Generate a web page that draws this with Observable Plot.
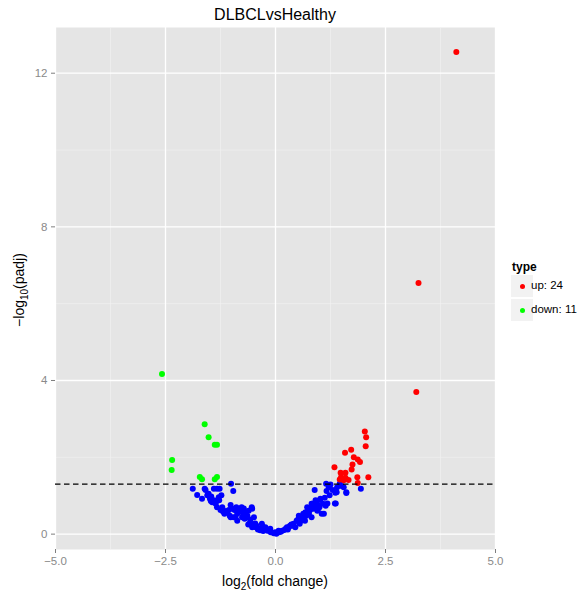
<!DOCTYPE html>
<html>
<head>
<meta charset="utf-8">
<script src="https://cdn.jsdelivr.net/npm/d3@7"></script>
<script src="https://cdn.jsdelivr.net/npm/@observablehq/plot@0.6"></script>
<style>
  html, body { margin: 0; padding: 0; background: #ffffff; }
  #wrap { position: relative; width: 582px; height: 595px; font-family: "Liberation Sans", Arial, sans-serif; }
  #wrap svg { position: absolute; left: 0; top: 0; }
  .lbl { position: absolute; white-space: nowrap; color: #000; }
  .key { position: absolute; width: 22px; height: 22px; background: #f2f2f2; }
  .kdot { position: absolute; width: 5px; height: 5px; border-radius: 50%; }
</style>
</head>
<body>
<div id="wrap"></div>
<script>
// ---- data (log2 fold change, -log10 padj) ----
const title = "DLBCLvsHealthy";
const typeLabels = ["up: 24", "down: 11"];
const xTicks = [-5, -2.5, 0, 2.5, 5];
const yTicks = [0, 4, 8, 12];
const padjCut = 1.301; // -log10(0.05)

const upX = [4.11, 3.25, 3.20, 2.03, 2.06, 2.05, 1.58, 1.72, 1.78, 1.87, 1.92, 1.75, 1.73, 1.34, 1.48, 1.59, 1.49, 1.59, 1.86, 2.11, 1.87, 1.46, 1.55, 1.66];
const upY = [12.55, 6.54, 3.70, 2.67, 2.52, 2.29, 2.12, 2.20, 2.00, 1.94, 1.88, 1.81, 1.68, 1.74, 1.60, 1.60, 1.48, 1.47, 1.48, 1.48, 1.33, 1.42, 1.40, 1.41];

const downX = [-2.58, -1.61, -1.52, -1.38, -1.33, -2.35, -2.36, -1.72, -1.67, -1.33, -1.38];
const downY = [4.17, 2.86, 2.52, 2.33, 2.33, 1.93, 1.67, 1.49, 1.43, 1.49, 1.43];

const normX = [-1.88, -1.78, -1.61, -1.67, -1.55, -1.49, -1.40, -1.33, -1.27, -1.01, -0.96, -1.44, -1.36, -1.29, -1.23, -1.33, -1.25, -1.16, -1.10, -1.02, -0.98, -1.04, -0.95, -0.87, -0.83, -0.72, -0.68, -0.64, -0.76, -0.53, -0.49, -0.53, -0.45, -0.38, -0.30, -0.23, -0.18, -0.11, -0.04, 0.02, 0.08, 0.15, 0.23, 0.30, 0.38, 0.45, 0.49, 0.53, 0.58, 0.64, 0.68, 0.72, 0.76, 0.80, 0.83, 0.87, 0.91, 0.95, 0.98, 1.02, 1.10, 1.14, 1.18, 0.89, 1.15, 1.21, 1.25, 1.36, 1.35, 1.40, 1.46, 1.55, 1.61, 1.94,
  -0.77, -0.65, -0.73, -0.54, -0.61, -0.43, -0.31, -0.12, -0.01, 0.07, 0.26, 0.33, 0.41, 0.48,
  1.23, 1.16, 1.39, 1.61, 1.23, 1.01, 0.93, 0.82, 1.08, 1.37, 0.86, 0.97, 0.74, 1.05, 0.63, 0.82, 0.67, 0.55, 0.59,
  -1.59, -1.46, -1.02, -0.91, -0.87, -1.06, -0.93, -0.89, -1.21, -1.28, -1.40,
  -0.58, -0.62, -0.50, -0.40, -0.35, -0.28, 0.12, 0.20, 0.28,
  -1.52, -1.47, -1.35, -1.19, -1.13, -0.80, -0.70, -0.57, -0.46, -0.25, 0.36, 0.52, 0.70, 0.78, 1.00, 1.12, 1.30, 1.50];
const normY = [1.18, 1.02, 1.18, 0.92, 1.01, 0.92, 1.18, 1.18, 1.18, 1.31, 1.12, 0.83, 0.79, 0.96, 1.01, 0.70, 0.63, 0.53, 0.57, 0.76, 0.66, 0.48, 0.44, 0.53, 0.66, 0.67, 0.57, 0.48, 0.44, 0.66, 0.44, 0.18, 0.18, 0.14, 0.21, 0.18, 0.09, 0.05, 0.02, 0.01, 0.05, 0.09, 0.14, 0.18, 0.22, 0.18, 0.35, 0.48, 0.35, 0.44, 0.57, 0.70, 0.53, 0.66, 0.79, 0.70, 0.88, 0.61, 0.74, 0.92, 0.53, 0.74, 0.80, 1.15, 1.31, 1.22, 1.29, 1.08, 0.80, 1.22, 1.31, 1.22, 1.09, 1.18,
  0.70, 0.44, 0.53, 0.70, 0.61, 0.22, 0.27, 0.14, 0.05, 0.09, 0.18, 0.22, 0.27, 0.35,
  1.27, 1.12, 1.09, 1.07, 1.01, 0.89, 0.79, 0.79, 0.79, 0.80, 0.66, 0.66, 0.60, 0.53, 0.53, 0.44, 0.35, 0.27, 0.44,
  1.15, 0.98, 0.44, 0.44, 0.35, 0.63, 0.63, 0.70, 0.70, 0.88, 0.88,
  0.30, 0.25, 0.26, 0.12, 0.10, 0.08, 0.06, 0.11, 0.12,
  1.05, 0.86, 0.85, 0.58, 0.60, 0.58, 0.40, 0.38, 0.28, 0.12, 0.25, 0.40, 0.48, 0.62, 0.70, 0.95, 1.15, 1.25];

// ---- build table ----
const rows = [];
normX.forEach((x, i) => rows.push({x, y: normY[i], type: "normal"}));
upX.forEach((x, i) => rows.push({x, y: upY[i], type: "up"}));
downX.forEach((x, i) => rows.push({x, y: downY[i], type: "down"}));

const xMajor = xTicks;
const xMinor = [-3.75, -1.25, 1.25, 3.75];
const yMajor = yTicks;
const yMinor = [2, 6, 10];

const chart = Plot.plot({
  width: 582,
  height: 595,
  marginLeft: 55,
  marginRight: 87,
  marginTop: 27,
  marginBottom: 46,
  style: {background: "transparent", fontFamily: "Liberation Sans, Arial, sans-serif", color: "#8a8a8a", overflow: "visible"},
  x: {domain: [-5, 5]},
  y: {domain: [-0.40, 13.19]},
  color: {domain: ["up", "down", "normal"], range: ["#ff0000", "#00ff00", "#0000ff"]},
  marks: [
    Plot.frame({fill: "#e5e5e5", stroke: "none"}),
    Plot.ruleX(xMinor, {stroke: "#f2f2f2", strokeWidth: 0.6}),
    Plot.ruleY(yMinor, {stroke: "#f2f2f2", strokeWidth: 0.6}),
    Plot.ruleX(xMajor, {stroke: "#ffffff", strokeWidth: 1.3}),
    Plot.ruleY(yMajor, {stroke: "#ffffff", strokeWidth: 1.3}),
    Plot.dot(rows, {x: "x", y: "y", fill: "type", r: 3}),
    Plot.ruleY([padjCut], {stroke: "#000", strokeWidth: 1.2, strokeDasharray: "5.5,3.5"}),
    Plot.axisX({ticks: xTicks, tickFormat: d3.format(".1f"), tickSize: 4, tickPadding: 3, fontSize: 11.5, stroke: "#7f7f7f", label: null}),
    Plot.axisY({ticks: yTicks, tickFormat: d3.format("d"), tickSize: 4, tickPadding: 4, fontSize: 11.5, stroke: "#7f7f7f", label: null})
  ]
});

const wrap = document.getElementById("wrap");
wrap.appendChild(chart);

function addLabel(html, css) {
  const d = document.createElement("div");
  d.className = "lbl";
  d.innerHTML = html;
  Object.assign(d.style, css);
  wrap.appendChild(d);
  return d;
}
// title
addLabel(title, {left: "275px", top: "6px", fontSize: "16px", transform: "translateX(-50%)"});
// x label
addLabel("log<sub style='font-size:10px'>2</sub>(fold change)", {left: "275px", top: "573px", fontSize: "14px", transform: "translateX(-50%)", lineHeight: "16px"});
// y label
addLabel("&minus;log<sub style='font-size:10px'>10</sub>(padj)", {left: "22px", top: "290px", fontSize: "14px", transform: "translate(-50%,-50%) rotate(-90deg)", lineHeight: "16px"});
// legend
addLabel("type", {left: "512px", top: "260px", fontSize: "12px", fontWeight: "bold"});
const keyColors = ["#ff0000", "#00ff00"];
typeLabels.forEach((t, i) => {
  const top = 275 + i * 24;
  const k = document.createElement("div");
  k.className = "key";
  k.style.left = "511px"; k.style.top = top + "px";
  wrap.appendChild(k);
  const dot = document.createElement("div");
  dot.className = "kdot";
  dot.style.left = (511 + 8.5) + "px"; dot.style.top = (top + 8.5) + "px";
  dot.style.background = keyColors[i];
  wrap.appendChild(dot);
  addLabel(t, {left: "531px", top: (top + 4) + "px", fontSize: "11.5px"});
});
</script>
</body>
</html>
